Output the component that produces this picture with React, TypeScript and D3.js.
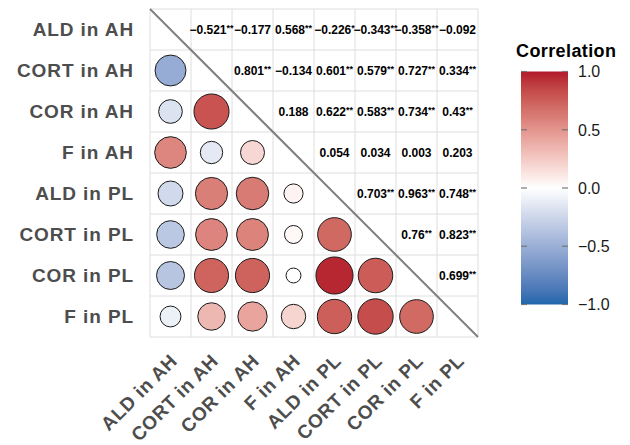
import React from 'react';
import * as d3 from 'd3';

// variable names, in matrix order
const labels = ['ALD in AH', 'CORT in AH', 'COR in AH', 'F in AH', 'ALD in PL', 'CORT in PL', 'COR in PL', 'F in PL'];

// upper triangle, row i vs columns i+1..n
const corrRows = [
  [-0.521, -0.177, 0.568, -0.226, -0.343, -0.358, -0.092],
  [0.801, -0.134, 0.601, 0.579, 0.727, 0.334],
  [0.188, 0.622, 0.583, 0.734, 0.43],
  [0.054, 0.034, 0.003, 0.203],
  [0.703, 0.963, 0.748],
  [0.76, 0.823],
  [0.699],
];
const sigRows = [
  ['**', '', '**', '*', '**', '**', ''],
  ['**', '', '**', '**', '**', '**'],
  ['', '**', '**', '**', '**'],
  ['', '', '', ''],
  ['**', '**', '**'],
  ['**', '**'],
  ['**'],
];
const legendTicks = [1, 0.5, 0, -0.5, -1];

const W = 630;
const H = 445;
const left = 150;
const top = 9;
const cell = 41;
const fontFamily = '"Liberation Sans", Arial, sans-serif';

export default function App() {
  const n = labels.length;
  const x = d3.scaleBand<number>().domain(d3.range(n)).range([left, left + n * cell]);
  const y = d3.scaleBand<number>().domain(d3.range(n)).range([top, top + n * cell]);
  const color = d3.scaleLinear<string>()
    .domain([-1, 0, 1])
    .range(['#2166AC', '#FFFFFF', '#B2182B'])
    .interpolate(d3.interpolateLab);
  const radius = d3.scaleSqrt().domain([0, 1]).range([6.8, 18.8]);

  // full matrix
  const get = (i: number, j: number) => (i < j ? corrRows[i][j - i - 1] : corrRows[j][i - j - 1]);

  const lower: { i: number; j: number; v: number }[] = [];
  const upper: { i: number; j: number; v: number; s: string }[] = [];
  for (let i = 0; i < n; i++) {
    for (let j = 0; j < n; j++) {
      if (i > j) lower.push({ i, j, v: get(i, j) });
      if (i < j) upper.push({ i, j, v: get(i, j), s: sigRows[i][j - i - 1] });
    }
  }

  const fmt = (v: number) => String(v).replace('-', '\u2212');

  const legX = 521;
  const legW = 47;
  const ly = d3.scaleLinear().domain([1, -1]).range([71.5, 304.5]);
  const stops = d3.range(0, 1.0001, 0.05);

  const gridLines = d3.range(n + 1);

  return (
    <svg width={W} height={H} style={{ position: 'absolute', left: 0, top: 0, background: '#fff' }} fontFamily={fontFamily}>
      <defs>
        <linearGradient id="corrGrad" x1="0" y1="0" x2="0" y2="1">
          {stops.map((t) => (
            <stop key={t} offset={t} stopColor={color(1 - 2 * t)} />
          ))}
        </linearGradient>
      </defs>

      {/* grid */}
      <g stroke="#DEDEDE" strokeWidth={1}>
        {gridLines.map((k) => (
          <line key={'v' + k} x1={left + k * cell} x2={left + k * cell} y1={top} y2={top + n * cell} />
        ))}
        {gridLines.map((k) => (
          <line key={'h' + k} x1={left} x2={left + n * cell} y1={top + k * cell} y2={top + k * cell} />
        ))}
      </g>

      {/* circles */}
      {lower.map((d) => (
        <circle
          key={d.i + '-' + d.j}
          cx={x(d.j)! + cell / 2}
          cy={y(d.i)! + cell / 2}
          r={radius(Math.abs(d.v))}
          fill={color(d.v)}
          stroke="#1a1a1a"
          strokeWidth={1}
        />
      ))}

      {/* coefficients */}
      {upper.map((d) => (
        <text
          key={'t' + d.i + '-' + d.j}
          x={x(d.j)! + cell / 2}
          y={y(d.i)! + cell / 2 + 4}
          textAnchor="middle"
          fontSize={12}
          fontWeight="bold"
          fill="#000"
        >
          {fmt(d.v)}
          {d.s && (
            <tspan fontSize={9} dy={-3}>
              {d.s}
            </tspan>
          )}
        </text>
      ))}

      {/* diagonal */}
      <line x1={left} y1={top} x2={left + n * cell} y2={top + n * cell} stroke="#808080" strokeWidth={2} />

      {/* y labels */}
      {labels.map((l, i) => (
        <text
          key={'y' + l}
          x={134}
          y={y(i)! + cell / 2}
          dy="0.36em"
          textAnchor="end"
          fontSize={19}
          fontWeight="bold"
          fill="#4D4D4D"
          letterSpacing={0.9}
        >
          {l}
        </text>
      ))}

      {/* x labels */}
      {labels.map((l, j) => {
        const ax = x(j)! + cell / 2 + 8;
        const ay = 362;
        return (
          <text
            key={'x' + l}
            x={ax}
            y={ay}
            transform={`rotate(-45, ${ax}, ${ay})`}
            textAnchor="end"
            fontSize={19}
            fontWeight="bold"
            fill="#4D4D4D"
            letterSpacing={0.6}
          >
            {l}
          </text>
        );
      })}

      {/* legend */}
      <text x={516} y={57} fontSize={18} fontWeight="bold" fill="#000" letterSpacing={0.4}>
        Correlation
      </text>
      <rect x={legX} y={ly(1)} width={legW} height={ly(-1) - ly(1)} fill="url(#corrGrad)" />
      {legendTicks.map((t) => (
        <g key={'lt' + t}>
          <line x1={legX} x2={legX + 6} y1={ly(t)} y2={ly(t)} stroke="#777" strokeWidth={1.2} />
          <line x1={legX + legW - 6} x2={legX + legW} y1={ly(t)} y2={ly(t)} stroke="#777" strokeWidth={1.2} />
          <text x={578} y={ly(t)} dy="0.36em" fontSize={16} fill="#1a1a1a">
            {d3.format('.1f')(t).replace('-', '\u2212')}
          </text>
        </g>
      ))}
    </svg>
  );
}
